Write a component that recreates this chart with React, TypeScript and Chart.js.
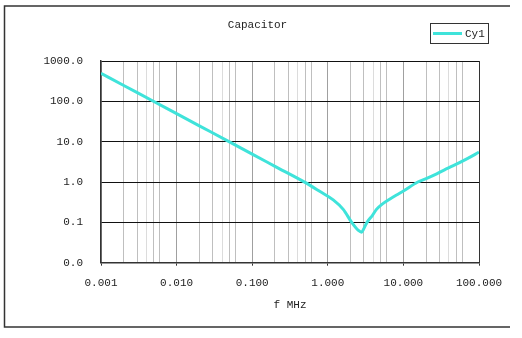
import React, { useEffect, useRef } from "react";
import { Chart, registerables } from "chart.js";

Chart.register(...registerables);

// Frequency (MHz) and impedance (ohm)
const freqMHz = [
  0.001, 0.002, 0.005, 0.01, 0.02, 0.05, 0.1, 0.2, 0.5, 0.79, 1.18, 1.6, 2.07,
  2.54, 2.8, 3.0, 3.3, 3.9, 4.4, 5.2, 6.65, 8, 10, 15.5, 20, 27.6, 35, 45,
  70, 100,
];
const impedance = [
  494, 247, 99, 49.4, 24.7, 9.9, 4.9, 2.45, 0.98, 0.58, 0.36, 0.21, 0.1,
  0.063, 0.057, 0.07, 0.1, 0.15, 0.21, 0.28, 0.38, 0.47, 0.6, 1.0, 1.22, 1.6,
  2.0, 2.5, 3.8, 5.5,
];

const seriesLabel = "Cy1";
const chartTitle = "Capacitor";
const xAxisTitle = "f MHz";

const xDecades = [0.001, 0.01, 0.1, 1, 10];
const xMultipliers = [1, 2, 3, 4, 5, 6];
const xLast = 100;
const yTickValues = [0.01, 0.1, 1, 10, 100, 1000];

const FONT = "'Liberation Mono', 'DejaVu Sans Mono', monospace";
const TEXT = "#222";
const CURVE = "#3fe3da";

const isDecade = (v: number) =>
  Math.abs(Math.log10(v) - Math.round(Math.log10(v))) < 1e-6;
const multiplierOf = (v: number) =>
  Math.round(v / Math.pow(10, Math.floor(Math.log10(v) + 1e-9)));

const xTickValues: number[] = [];
xDecades.forEach((d) =>
  xMultipliers.forEach((m) => xTickValues.push(+(d * m).toPrecision(6)))
);
xTickValues.push(xLast);

const framePlugin = {
  id: "frame",
  beforeDraw(chart: any) {
    const ctx = chart.ctx;
    ctx.save();
    ctx.fillStyle = "#fff";
    ctx.fillRect(0, 0, chart.width, chart.height);
    ctx.strokeStyle = "#333";
    ctx.lineWidth = 1.5;
    ctx.beginPath();
    ctx.moveTo(510, 6);
    ctx.lineTo(4.5, 6);
    ctx.lineTo(4.5, 327);
    ctx.lineTo(510, 327);
    ctx.stroke();
    ctx.restore();
  },
};

const legendPlugin = {
  id: "boxLegend",
  afterDraw(chart: any) {
    const ctx = chart.ctx;
    ctx.save();
    ctx.strokeStyle = "#333";
    ctx.lineWidth = 1;
    ctx.strokeRect(430.5, 23.5, 58, 20);
    ctx.strokeStyle = CURVE;
    ctx.lineWidth = 3;
    ctx.beginPath();
    ctx.moveTo(433, 33.5);
    ctx.lineTo(462, 33.5);
    ctx.stroke();
    ctx.fillStyle = TEXT;
    ctx.font = `11px ${FONT}`;
    ctx.textBaseline = "middle";
    ctx.textAlign = "left";
    ctx.fillText(chart.data.datasets[0].label, 465, 34);
    ctx.restore();
  },
};

export default function App() {
  const ref = useRef<HTMLCanvasElement>(null);

  useEffect(() => {
    const canvas = ref.current!;
    const font = { family: FONT, size: 11, weight: "normal" as const };
    const chart = new Chart(canvas, {
      type: "line",
      data: {
        datasets: [
          {
            label: seriesLabel,
            data: freqMHz.map((f, i) => ({ x: f, y: impedance[i] })),
            borderColor: CURVE,
            backgroundColor: CURVE,
            borderWidth: 3,
            pointRadius: 0,
            cubicInterpolationMode: "monotone",
            fill: false,
          },
        ],
      },
      options: {
        responsive: false,
        animation: false,
        devicePixelRatio: 1,
        layout: { padding: { left: 36, right: 43, top: 0, bottom: 0 } },
        plugins: {
          legend: { display: false },
          tooltip: { enabled: false },
          title: {
            display: true,
            text: chartTitle,
            color: TEXT,
            font,
            padding: { top: 18, bottom: 29.8 },
          },
        },
        scales: {
          x: {
            type: "logarithmic",
            min: 0.001,
            max: 100,
            afterBuildTicks: (s: any) => {
              s.ticks = xTickValues.map((v) => ({ value: v, major: isDecade(v) }));
            },
            afterFit: (s: any) => {
              s.height = 75.3;
            },
            ticks: {
              autoSkip: false,
              maxRotation: 0,
              minRotation: 0,
              padding: 11,
              color: TEXT,
              font,
              callback: (v: any) => (isDecade(Number(v)) ? Number(v).toFixed(3) : ""),
            },
            grid: {
              color: (c: any) => {
                const v = c.tick ? c.tick.value : 0;
                if (Math.abs(v - 100) < 1e-6) return "#333";
                if (isDecade(v)) return "#a0a0a0";
                return multiplierOf(v) === 4 ? "#dcdcdc" : "#bfbfbf";
              },
              lineWidth: 1,
              drawTicks: true,
              tickLength: 3,
              tickColor: (c: any) => {
                const v = c.tick ? c.tick.value : 0;
                return isDecade(v) ? "#333" : "rgba(0,0,0,0)";
              },
            },
            border: { color: "#333", width: 1.5 },
            title: {
              display: true,
              text: xAxisTitle,
              color: TEXT,
              font,
              padding: { top: 0, bottom: 26.4 },
            },
          },
          y: {
            type: "logarithmic",
            min: 0.01,
            max: 1000,
            afterBuildTicks: (s: any) => {
              s.ticks = yTickValues.map((v) => ({ value: v, major: true }));
            },
            afterFit: (s: any) => {
              s.width = 65;
            },
            ticks: {
              autoSkip: false,
              padding: 18,
              color: TEXT,
              font,
              callback: (v: any) => Number(v).toFixed(1),
            },
            grid: { color: "#111", lineWidth: 1, drawTicks: false },
            border: { color: "#333", width: 1.5 },
          },
        },
      } as any,
      plugins: [framePlugin, legendPlugin],
    });
    return () => chart.destroy();
  }, []);

  return (
    <div style={{ position: "absolute", left: 0, top: 0, width: 522, height: 338 }}>
      <canvas ref={ref} width={522} height={338} style={{ display: "block" }} />
    </div>
  );
}
